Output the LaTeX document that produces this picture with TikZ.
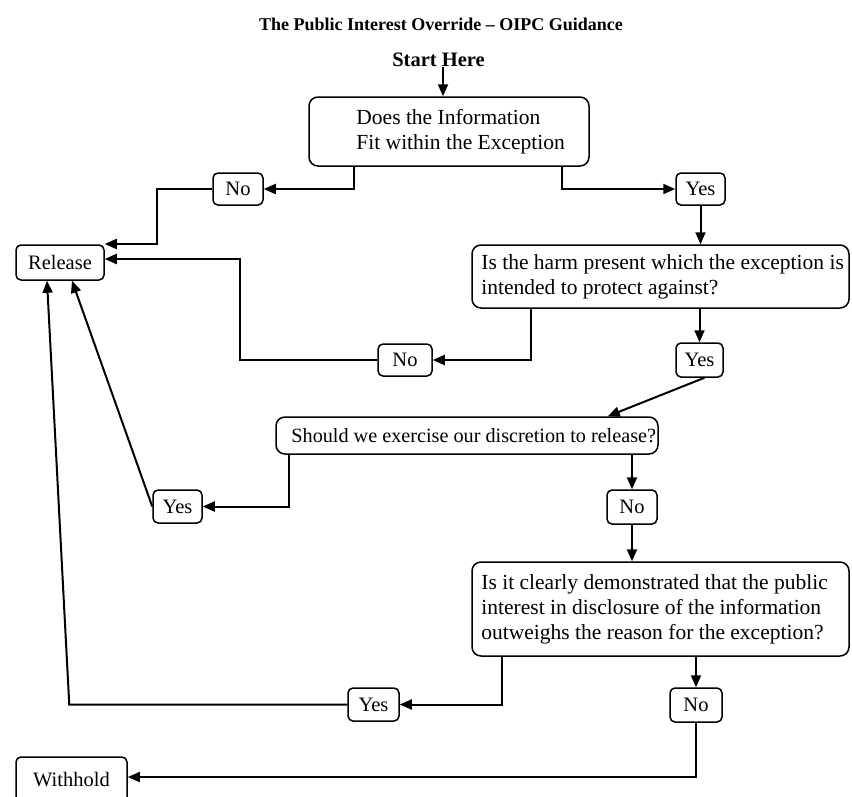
\documentclass[tikz,border=0pt]{standalone}
\usepackage{fontspec}
\setmainfont{Liberation Serif}
\usetikzlibrary{arrows.meta,calc}
\begin{document}
\begin{tikzpicture}[x=1pt,y=-1pt,
  conn/.style={line width=2pt, -{Triangle[length=12pt,width=10pt]}, line join=miter},
  qbox/.style={draw, line width=1.5pt, rounded corners=9pt, inner sep=0pt},
  lbox/.style={draw, line width=1.5pt, rounded corners=5pt, inner sep=0pt, font=\fontsize{20.5}{24}\selectfont},
  qtext/.style={inner sep=0pt, align=left, anchor=west, font=\fontsize{21.5}{25}\selectfont},
]
\useasboundingbox (0,0) rectangle (852,796);
\fill[white] (0,0) rectangle (852,796);

\node[font=\bfseries\fontsize{18}{22}\selectfont, inner sep=0pt] (title) at (441,24) {The Public Interest Override – OIPC Guidance};
\node[font=\bfseries\fontsize{20.5}{24}\selectfont, inner sep=0pt] (start) at (438.5,60) {Start Here};

\node[qbox, minimum width=280pt, minimum height=69pt] (q1) at (449,131.5) {};
\node[qtext] (q1t) at ([xshift=48pt]q1.west) {Does the Information\\Fit within the Exception};

\node[lbox, minimum width=50pt, minimum height=32pt] (no1) at (238,189) {No};
\node[lbox, minimum width=49pt, minimum height=32pt] (yes1) at (700.5,189) {Yes};
\node[lbox, minimum width=88pt, minimum height=35pt] (rel) at (60,262.5) {Release};

\node[qbox, minimum width=377pt, minimum height=63pt] (q2) at (660.5,276.5) {};
\node[qtext] (q2t) at ([xshift=10pt]q2.west) {Is the harm present which the exception is\\intended to protect against?};

\node[lbox, minimum width=54pt, minimum height=32pt] (no2) at (405,360) {No};
\node[lbox, minimum width=47pt, minimum height=34pt] (yes2) at (699.5,360) {Yes};

\node[qbox, minimum width=382pt, minimum height=37pt] (q3) at (467,435.5) {};
\node[qtext, font=\fontsize{20.2}{24}\selectfont] (q3t) at ([xshift=16pt]q3.west) {Should we exercise our discretion to release?};

\node[lbox, minimum width=49pt, minimum height=33pt] (yes3) at (177.5,506.5) {Yes};
\node[lbox, minimum width=50pt, minimum height=34pt] (no3) at (632,507) {No};

\node[qbox, minimum width=377pt, minimum height=94pt] (q4) at (660.5,609) {};
\node[qtext] (q4t) at ([xshift=10pt]q4.west) {Is it clearly demonstrated that the public\\interest in disclosure of the information\\outweighs the reason for the exception?};

\node[lbox, minimum width=51pt, minimum height=33pt] (yes4) at (373.5,704.5) {Yes};
\node[lbox, minimum width=52pt, minimum height=34pt] (no4) at (696,705) {No};
\node[lbox, minimum width=111pt, minimum height=46pt] (wh) at (71.5,780) {Withhold};

\draw[conn] ([xshift=4.5pt]start.south) -- ([xshift=4.5pt]start.south |- q1.north);
\draw[conn] ([xshift=46pt]q1.south west) |- (no1.east);
\draw[conn] (no1.west) -- ++(-55,0) |- ([yshift=18.5pt]rel.east);
\draw[conn] ([xshift=-28pt]q1.south east) |- (yes1.west);
\draw[conn] (yes1.south) -- (yes1.south |- q2.north);
\draw[conn] ([xshift=60pt]q2.south west) |- (no2.east);
\draw[conn] (no2.west) -- ++(-137,0) |- ([yshift=3.5pt]rel.east);
\draw[conn] (q2.south -| yes2) -- (yes2.north);
\draw[conn] ([xshift=5pt]yes2.south) -- ([xshift=-51pt]q3.north east);
\draw[conn] ([xshift=14pt]q3.south west) |- (yes3.east);
\draw[conn] (yes3.west) -- ([xshift=12pt]rel.south);
\draw[conn] (q3.south -| no3) -- (no3.north);
\draw[conn] (no3.south) -- (no3.south |- q4.north);
\draw[conn] ([xshift=31pt]q4.south west) |- (yes4.east);
\draw[conn] (yes4.west) -- ++(-278,0) -- ([xshift=-13pt]rel.south);
\draw[conn] (q4.south -| no4) -- (no4.north);
\draw[conn] (no4.south) |- ([yshift=3pt]wh.east);
\end{tikzpicture}
\end{document}
